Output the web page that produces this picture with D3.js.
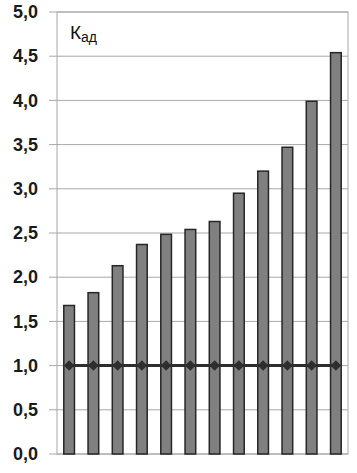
<!DOCTYPE html>
<html>
<head>
<meta charset="utf-8">
<script src="https://cdn.jsdelivr.net/npm/d3@7"></script>
<style>
  body { margin: 0; background: #fff; }
  text { font-family: "Liberation Sans", Arial, sans-serif; }
</style>
</head>
<body>
<div id="chart"></div>
<script>
const categories = ["1", "2", "3", "4", "5", "6", "7", "8", "9", "10", "11", "12"];
const barValues = [1.68, 1.825, 2.13, 2.37, 2.485, 2.54, 2.63, 2.95, 3.2, 3.47, 3.99, 4.54];
const lineValues = [1, 1, 1, 1, 1, 1, 1, 1, 1, 1, 1, 1];
const yTicks = [0, 0.5, 1, 1.5, 2, 2.5, 3, 3.5, 4, 4.5, 5];

const width = 357, height = 473;
const margin = { top: 12, right: 9, bottom: 19, left: 57 };

const svg = d3.select("#chart").append("svg")
  .attr("width", width)
  .attr("height", height);

const x = d3.scaleBand()
  .domain(categories)
  .range([margin.left, width - margin.right])
  .paddingInner(0.56)
  .paddingOuter(0.28);

const y = d3.scaleLinear()
  .domain([0, 5])
  .range([height - margin.bottom, margin.top]);

// gridlines
svg.append("g")
  .selectAll("line")
  .data(yTicks)
  .join("line")
  .attr("x1", margin.left - 8)
  .attr("x2", width - margin.right)
  .attr("y1", d => y(d))
  .attr("y2", d => y(d))
  .attr("stroke", "#a8a8a8")
  .attr("stroke-width", 1);

// plot frame
svg.append("rect")
  .attr("x", margin.left)
  .attr("y", margin.top)
  .attr("width", width - margin.right - margin.left)
  .attr("height", y(0) - margin.top)
  .attr("fill", "none")
  .attr("stroke", "#a8a8a8")
  .attr("stroke-width", 1);

// y axis labels
svg.append("g")
  .attr("transform", `translate(${margin.left},0)`)
  .call(d3.axisLeft(y).tickValues(yTicks).tickSize(0).tickPadding(19)
    .tickFormat(d => d3.format(".1f")(d).replace(".", ",")))
  .call(g => g.select(".domain").remove())
  .selectAll("text")
  .attr("font-family", "Liberation Sans, Arial, sans-serif")
  .attr("font-size", 18)
  .attr("font-weight", "bold")
  .attr("fill", "#1a1a1a");

// bars
svg.append("g")
  .selectAll("rect")
  .data(barValues)
  .join("rect")
  .attr("x", (d, i) => x(categories[i]))
  .attr("y", d => y(d))
  .attr("width", x.bandwidth())
  .attr("height", d => y(0) - y(d))
  .attr("fill", "#808080")
  .attr("stroke", "#262626")
  .attr("stroke-width", 1.5);

// line at 1.0
const line = d3.line()
  .x((d, i) => x(categories[i]) + x.bandwidth() / 2)
  .y(d => y(d));

svg.append("path")
  .datum(lineValues)
  .attr("d", line)
  .attr("fill", "none")
  .attr("stroke", "#2e2e2e")
  .attr("stroke-width", 3);

svg.append("g")
  .selectAll("path")
  .data(lineValues)
  .join("path")
  .attr("transform", (d, i) => `translate(${x(categories[i]) + x.bandwidth() / 2},${y(d)})`)
  .attr("d", d3.symbol(d3.symbolDiamond2, 70))
  .attr("fill", "#2e2e2e");

// label
const label = svg.append("text")
  .attr("x", 70)
  .attr("y", 39)
  .attr("font-size", 19)
  .attr("fill", "#111");
label.append("tspan").text("К");
label.append("tspan").attr("font-size", 14).attr("dy", 3).text("ад");
</script>
</body>
</html>
